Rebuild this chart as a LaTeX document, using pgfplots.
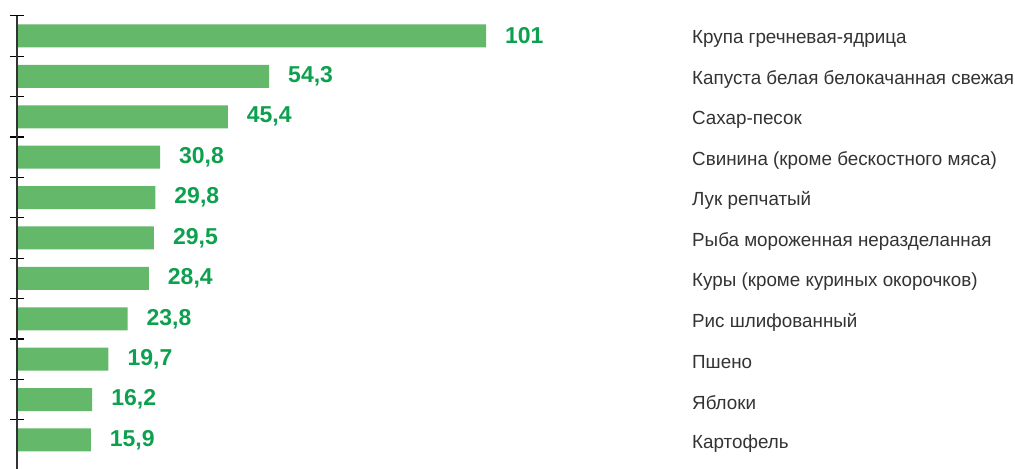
\documentclass[border=0pt]{standalone}
\usepackage{fontspec}
\setmainfont{Liberation Sans}
\newfontfamily\catfont[FakeStretch=0.99]{Liberation Sans}
\usepackage{pgfplots}
\pgfplotsset{compat=1.18}
\definecolor{barg}{HTML}{63B86A}
\definecolor{valg}{HTML}{0DA04E}
\definecolor{txt}{HTML}{333333}

\begin{document}
\begin{tikzpicture}
\begin{axis}[
  scale only axis, width=507.5pt, height=234.5pt,
  xmin=-3.66, xmax=214.9, ymin=-0.891, ymax=10.718,
  y dir=reverse,
  axis x line=none, axis y line=middle,
  y axis line style={draw=none},
  xbar, bar width=11.5pt,
  ytick={-0.5,0.5,...,9.5}, yticklabels={},
  tick align=center, major tick length=7pt,
  y tick style={black, line width=0.6pt},
  clip=false,
  nodes near coords, point meta=explicit symbolic,
  every node near coord/.append style={font=\fontsize{11.5}{12}\selectfont\bfseries,
    text=valg, anchor=west, xshift=6pt},
]
\addplot[draw=none, fill=barg] coordinates {
  (101,0) [101]
  (54.3,1) [54,3]
  (45.4,2) [45,4]
  (30.8,3) [30,8]
  (29.8,4) [29,8]
  (29.5,5) [29,5]
  (28.4,6) [28,4]
  (23.8,7) [23,8]
  (19.7,8) [19,7]
  (16.2,9) [16,2]
  (15.9,10) [15,9]
};
\draw[txt, line width=1pt] (axis cs:0,-0.5) -- (axis cs:0,10.718);
\begin{scope}[every node/.style={anchor=west, text=txt,
    font=\catfont\fontsize{9.5}{10}\selectfont, inner sep=0pt}]
\node at (axis cs:145.3,0.08) {Крупа гречневая-ядрица};
\node at (axis cs:145.3,1.08) {Капуста белая белокачанная свежая};
\node at (axis cs:145.3,2.08) {Сахар-песок};
\node at (axis cs:145.3,3.08) {Свинина (кроме бескостного мяса)};
\node at (axis cs:145.3,4.08) {Лук репчатый};
\node at (axis cs:145.3,5.08) {Рыба мороженная неразделанная};
\node at (axis cs:145.3,6.08) {Куры (кроме куриных окорочков)};
\node at (axis cs:145.3,7.08) {Рис шлифованный};
\node at (axis cs:145.3,8.08) {Пшено};
\node at (axis cs:145.3,9.08) {Яблоки};
\node at (axis cs:145.3,10.08) {Картофель};
\end{scope}
\end{axis}
\pgfresetboundingbox
\path (current axis.south west) rectangle (current axis.north east);
\end{tikzpicture}
\end{document}
